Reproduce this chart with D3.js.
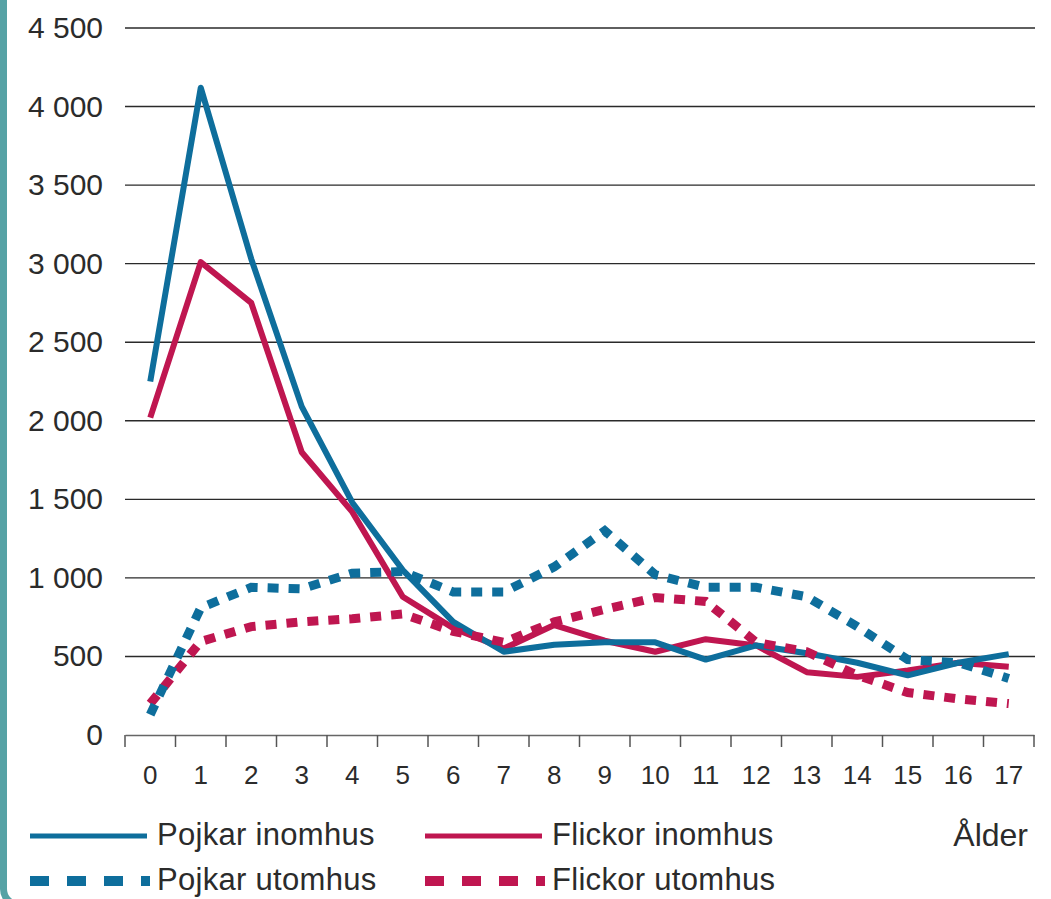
<!DOCTYPE html>
<html>
<head>
<meta charset="utf-8">
<script src="https://cdn.jsdelivr.net/npm/d3@7"></script>
<style>
  html, body { margin: 0; padding: 0; background: #ffffff; }
  svg { display: block; }
  text { font-family: "Liberation Sans", Arial, "Helvetica Neue", sans-serif; fill: #2b2b2b; }
</style>
</head>
<body>
<svg id="chart" width="1051" height="899"></svg>
<script>
// ---- data ----
const ages = [0, 1, 2, 3, 4, 5, 6, 7, 8, 9, 10, 11, 12, 13, 14, 15, 16, 17];
const pojkarInomhus  = [2250, 4120, 3030, 2090, 1480, 1050, 720, 530, 575, 590, 590, 480, 570, 520, 460, 380, 460, 515];
const flickorInomhus = [2020, 3010, 2750, 1800, 1420, 880, 680, 550, 700, 600, 530, 610, 570, 400, 370, 410, 460, 435];
const pojkarUtomhus  = [130, 810, 940, 930, 1030, 1040, 910, 910, 1070, 1300, 1020, 940, 940, 880, 690, 480, 460, 360];
const flickorUtomhus = [200, 595, 690, 720, 740, 770, 660, 590, 720, 800, 875, 850, 590, 530, 380, 270, 230, 200];
const yTicks = [0, 500, 1000, 1500, 2000, 2500, 3000, 3500, 4000, 4500];
const seriesNames = ["Pojkar inomhus", "Flickor inomhus", "Pojkar utomhus", "Flickor utomhus"];
const xAxisTitle = "Ålder";

(function () {
const blue = "#0e6e9c";
const red = "#bf1650";

const svg = d3.select("#chart");

// teal frame on the left
svg.append("rect")
  .attr("x", 3.5).attr("y", -30)
  .attr("width", 1120).attr("height", 935)
  .attr("rx", 16).attr("ry", 16)
  .attr("fill", "none")
  .attr("stroke", "#56a2a5")
  .attr("stroke-width", 7);

const pLeft = 125, pRight = 1034, pTop = 28, pBottom = 735;

const x = d3.scaleBand().domain(ages).range([pLeft, pRight]).padding(0);
const y = d3.scaleLinear().domain([0, 4500]).range([pBottom, pTop]);

const locale = d3.formatLocale({ decimal: ",", thousands: " ", grouping: [3], currency: ["", " kr"] });
const fmt = locale.format(",");

// gridlines
svg.append("g").selectAll("line")
  .data(yTicks.filter(d => d > 0))
  .join("line")
  .attr("x1", pLeft).attr("x2", pRight + 1)
  .attr("y1", d => y(d)).attr("y2", d => y(d))
  .attr("stroke", "#2a2a2a")
  .attr("stroke-width", 1.4);

// y labels
svg.append("g").selectAll("text")
  .data(yTicks)
  .join("text")
  .attr("x", 103)
  .attr("y", d => y(d) + 10)
  .attr("text-anchor", "end")
  .attr("font-size", 30)
  .text(d => fmt(d));

// x axis
const xAxis = d3.axisBottom(x).tickSize(0).tickFormat(d => d);
const gx = svg.append("g").attr("transform", `translate(0,${pBottom})`).call(xAxis);
gx.select(".domain").attr("stroke", "#666").attr("stroke-width", 1.5);
gx.selectAll(".tick text")
  .attr("font-size", 26)
  .attr("font-family", "'Liberation Sans', Arial, sans-serif")
  .attr("fill", "#2b2b2b")
  .attr("dy", 0)
  .attr("y", 49);
// ticks at band boundaries
const boundaries = ages.map(a => x(a)).concat([x(ages[ages.length - 1]) + x.bandwidth()]);
svg.append("g").selectAll("line")
  .data(boundaries)
  .join("line")
  .attr("x1", d => d).attr("x2", d => d)
  .attr("y1", pBottom).attr("y2", pBottom + 12)
  .attr("stroke", "#555")
  .attr("stroke-width", 1.5);

// lines
const cx = a => x(a) + x.bandwidth() / 2;
const lineGen = d3.line().x((d, i) => cx(ages[i])).y(d => y(d));

const plotOrder = [
  { vals: flickorInomhus, color: red, dotted: false },
  { vals: pojkarInomhus, color: blue, dotted: false },
  { vals: flickorUtomhus, color: red, dotted: true },
  { vals: pojkarUtomhus, color: blue, dotted: true }
];
plotOrder.forEach(s => {
  svg.append("path")
    .datum(s.vals)
    .attr("d", lineGen)
    .attr("fill", "none")
    .attr("stroke", s.color)
    .attr("stroke-width", s.dotted ? 9 : 6)
    .attr("stroke-linejoin", s.dotted ? "miter" : "round")
    .attr("stroke-dasharray", s.dotted ? "11,10" : null);
});

// legend
const legend = [
  { name: seriesNames[0], color: blue, dotted: false, lx: 30, ly: 836 },
  { name: seriesNames[1], color: red, dotted: false, lx: 425, ly: 836 },
  { name: seriesNames[2], color: blue, dotted: true, lx: 30, ly: 881 },
  { name: seriesNames[3], color: red, dotted: true, lx: 425, ly: 881 }
];
const lg = svg.append("g");
legend.forEach(l => {
  lg.append("line")
    .attr("x1", l.lx).attr("x2", l.lx + (l.dotted ? 120 : 117))
    .attr("y1", l.ly).attr("y2", l.ly)
    .attr("stroke", l.color)
    .attr("stroke-width", l.dotted ? 10 : 5)
    .attr("stroke-dasharray", l.dotted ? "19,18" : null);
  lg.append("text")
    .attr("x", l.lx + 127)
    .attr("y", l.ly + 9)
    .attr("font-size", 31)
    .attr("letter-spacing", 0.3)
    .text(l.name);
});
lg.append("text")
  .attr("x", 1028).attr("y", 846)
  .attr("text-anchor", "end")
  .attr("font-size", 32)
  .text(xAxisTitle);
})();
</script>
</body>
</html>
